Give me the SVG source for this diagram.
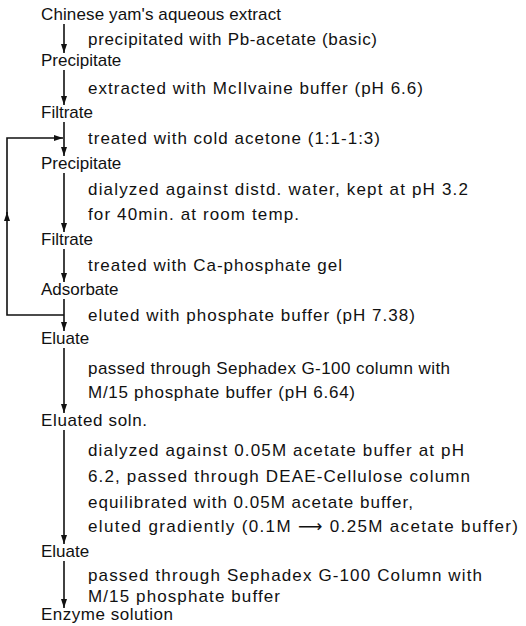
<svg xmlns="http://www.w3.org/2000/svg" width="526" height="626" viewBox="0 0 526 626">
<style>
  .t { font-family: "Liberation Sans", "DejaVu Sans", sans-serif; font-size: 17px; fill: #111; }
  .c { stroke: #111; stroke-width: 1.6; fill: none; }
</style>
<defs>
  <marker id="ah" markerUnits="userSpaceOnUse" markerWidth="10" markerHeight="8" refX="9" refY="3" orient="auto">
    <path d="M0,0 L9,3 L0,6 Z" fill="#111"/>
  </marker>
</defs>
<rect width="526" height="626" fill="#fff"/>
<g id="connectors">
  <path class="c" d="M64,24 V53" marker-end="url(#ah)"/>
  <path class="c" d="M64,70 V105" marker-end="url(#ah)"/>
  <path class="c" d="M64,122 V156" marker-end="url(#ah)"/>
  <path class="c" d="M64,173 V232" marker-end="url(#ah)"/>
  <path class="c" d="M64,249 V282" marker-end="url(#ah)"/>
  <path class="c" d="M64,299 V331" marker-end="url(#ah)"/>
  <path class="c" d="M64,348 V413" marker-end="url(#ah)"/>
  <path class="c" d="M64,430 V544" marker-end="url(#ah)"/>
  <path class="c" d="M64,561 V608" marker-end="url(#ah)"/>
  <path class="c" d="M64,315 H7 V212" marker-end="url(#ah)"/>
  <path class="c" d="M7,214 V138 H63" marker-end="url(#ah)"/>
  <g id="step-labels">
    <text class="t" x="88" y="45" textLength="289">precipitated with Pb-acetate (basic)</text>
    <text class="t" x="88" y="94" textLength="335">extracted with McIlvaine buffer (pH 6.6)</text>
    <text class="t" x="88" y="144" textLength="292">treated with cold acetone (1:1-1:3)</text>
    <text class="t" x="88" y="195" textLength="380">dialyzed against distd. water, kept at pH 3.2</text>
    <text class="t" x="88" y="220" textLength="211">for 40min. at room temp.</text>
    <text class="t" x="88" y="271" textLength="254">treated with Ca-phosphate gel</text>
    <text class="t" x="88" y="321" textLength="327">eluted with phosphate buffer (pH 7.38)</text>
    <text class="t" x="88" y="374" textLength="362">passed through Sephadex G-100 column with</text>
    <text class="t" x="88" y="398" textLength="267">M/15 phosphate buffer (pH 6.64)</text>
    <text class="t" x="88" y="456" textLength="376">dialyzed against 0.05M acetate buffer at pH</text>
    <text class="t" x="88" y="482" textLength="382">6.2, passed through DEAE-Cellulose column</text>
    <text class="t" x="88" y="508" textLength="325">equilibrated with 0.05M acetate buffer,</text>
    <text class="t" x="88" y="532" textLength="430">eluted gradiently (0.1M ⟶ 0.25M acetate buffer)</text>
    <text class="t" x="88" y="581" textLength="394">passed through Sephadex G-100 Column with</text>
    <text class="t" x="88" y="602" textLength="192">M/15 phosphate buffer</text>
  </g>
</g>
<g id="n1"><text class="t" x="41" y="20" textLength="240">Chinese yam's aqueous extract</text></g>
<g id="n2"><text class="t" x="41" y="66">Precipitate</text></g>
<g id="n3"><text class="t" x="41" y="118">Filtrate</text></g>
<g id="n4"><text class="t" x="41" y="169">Precipitate</text></g>
<g id="n5"><text class="t" x="41" y="245">Filtrate</text></g>
<g id="n6"><text class="t" x="41" y="295">Adsorbate</text></g>
<g id="n7"><text class="t" x="41" y="344">Eluate</text></g>
<g id="n8"><text class="t" x="41" y="426" textLength="106">Eluated soln.</text></g>
<g id="n9"><text class="t" x="41" y="557">Eluate</text></g>
<g id="n10"><text class="t" x="41" y="620" textLength="132">Enzyme solution</text></g>
</svg>
